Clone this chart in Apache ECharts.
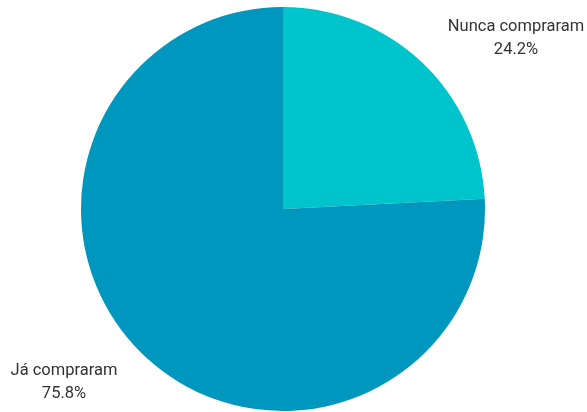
<!DOCTYPE html>
<html>
<head>
<meta charset="utf-8">
<script src="https://cdn.jsdelivr.net/npm/echarts@6/dist/echarts.min.js"></script>
<style>
  html, body { margin: 0; padding: 0; background: #fff; }
  #chart { width: 587px; height: 412px; }
</style>
</head>
<body>
<div id="chart"></div>
<script>
// Share of respondents who have / have never bought
const categories = ['Nunca compraram', 'Já compraram'];
const shares = [24.2, 75.8];
const colors = ['#00C4CC', '#0097BE'];

// Where each slice's label sits (px)
const labelSpots = [
  { x: 516, y: 38.5 },
  { x: 64, y: 382 }
];

const chart = echarts.init(document.getElementById('chart'), null, { renderer: 'canvas' });

chart.setOption({
  backgroundColor: '#ffffff',
  animation: false,
  series: [{
    type: 'pie',
    center: [283, 209],
    radius: 202,
    startAngle: 90,
    clockwise: true,
    avoidLabelOverlap: false,
    label: {
      show: true,
      position: 'outside',
      color: '#333333',
      fontFamily: 'Roboto, "Liberation Sans", sans-serif',
      fontSize: 16.5,
      lineHeight: 23,
      align: 'center',
      formatter: p => p.name + '\n' + p.value.toFixed(1) + '%'
    },
    labelLine: { show: false },
    labelLayout: p => ({
      x: labelSpots[p.dataIndex].x,
      y: labelSpots[p.dataIndex].y,
      align: 'center',
      verticalAlign: 'middle'
    }),
    itemStyle: { borderWidth: 0 },
    emphasis: { disabled: true },
    data: categories.map((name, i) => ({
      name,
      value: shares[i],
      itemStyle: { color: colors[i] }
    }))
  }]
});
</script>
</body>
</html>
